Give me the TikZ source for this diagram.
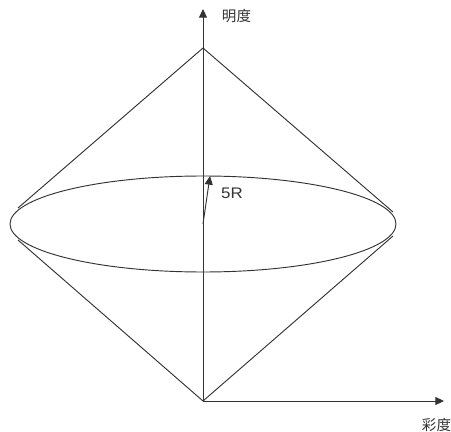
\documentclass[tikz,border=0pt]{standalone}
\usepackage{fontspec}
\usetikzlibrary{arrows.meta,shapes.geometric}
\newfontfamily\cjk{Noto Sans CJK SC}
\setmainfont{Liberation Sans}
\definecolor{ink}{HTML}{333333}
\tikzset{
  px/.style={x=0.75pt,y=-0.75pt},
  ln/.style={draw=ink,line width=0.7pt},
  arr/.style={ln,-{Triangle[length=6.5pt,width=6pt]}},
  lbl/.style={text=ink,inner sep=0pt,font=\cjk\fontsize{10.9pt}{12pt}\selectfont},
  lat/.style={text=ink,inner sep=0pt,xscale=1.1,font=\fontsize{11.5pt}{13pt}\selectfont}
}
\begin{document}
\begin{tikzpicture}[px]
\useasboundingbox (0,0) rectangle (451,432);
\coordinate (O) at (203,401);
\coordinate (Ytip) at (203,9);
\coordinate (Xtip) at (444,401);
\coordinate (T) at (203,48);
\coordinate (LU) at (18,208);
\coordinate (RU) at (393,212);
\coordinate (LD) at (18,240);
\coordinate (RD) at (393,236);
\coordinate (C) at (203,224);
\coordinate (Rtip) at (210,176);
\node[draw=ink,line width=0.7pt,ellipse,minimum width=289.5pt,minimum height=72pt,inner sep=0pt] (E) at (203,224) {};
\draw[arr] (O) -- (Ytip);
\draw[arr] (O) -- (Xtip);
\draw[ln] (T) -- (LU);
\draw[ln] (T) -- (RU);
\draw[ln] (O) -- (LD);
\draw[ln] (O) -- (RD);
\draw[arr] (C) -- (Rtip);
\node[lbl] (a) at (236.5,16) {明度};
\node[lbl] (b) at (436.5,424.5) {彩度};
\node[lat] (c) at (232,193) {5R};
\end{tikzpicture}
\end{document}
